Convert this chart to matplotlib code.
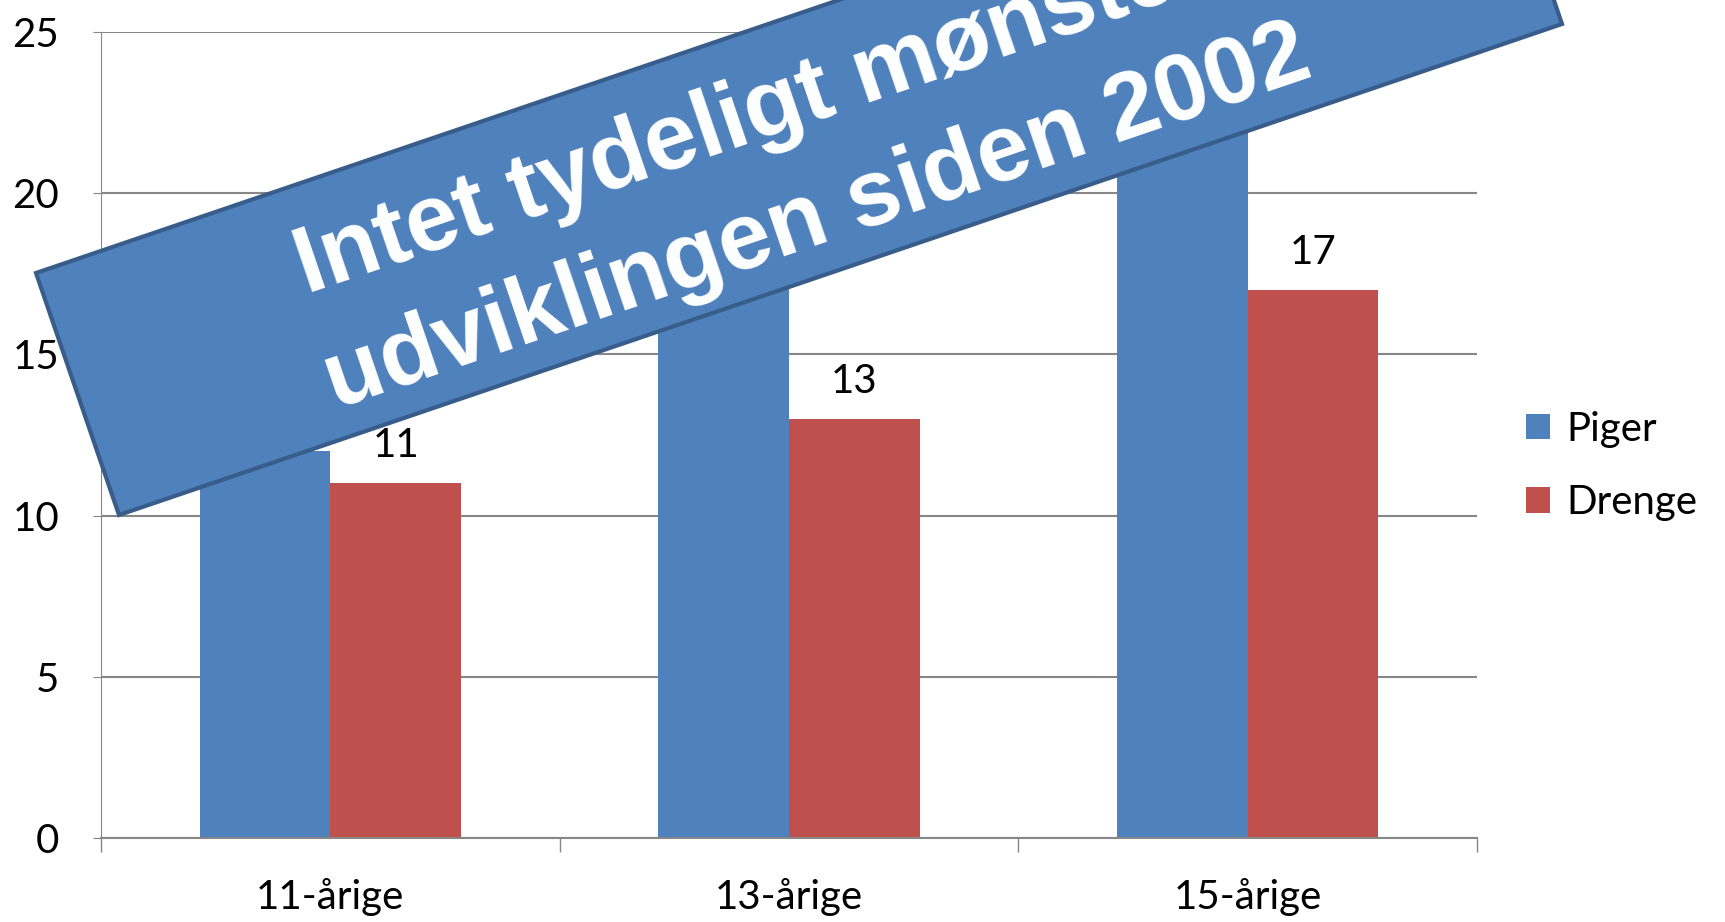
import numpy as np
import matplotlib.pyplot as plt
from matplotlib.patches import Polygon

# data
categories = ['11-årige', '13-årige', '15-årige']
piger = [12, 19, 23]
drenge = [11, 13, 17]
series_names = ['Piger', 'Drenge']
banner_text = 'Intet tydeligt mønster i\nudviklingen siden 2002'

plt.rcParams['font.family'] = ['Lato', 'DejaVu Sans']

W, H = 1725, 922
fig = plt.figure(figsize=(W / 100, H / 100), dpi=100)
ax = fig.add_axes([101 / W, 1 - 838 / H, (1477 - 101) / W, (838 - 32) / H])

x = np.arange(len(categories))
bw = 0.285
b1 = ax.bar(x - bw / 2, piger, bw, color='#4F81BD', label=series_names[0], zorder=2)
b2 = ax.bar(x + bw / 2, drenge, bw, color='#C0504D', label=series_names[1], zorder=2)
for bars in (b1, b2):
    for r in bars:
        ax.text(r.get_x() + r.get_width() / 2, r.get_height() + 0.6, '%d' % r.get_height(),
                ha='center', va='bottom', fontsize=29, color='black')

ax.set_xlim(-0.5, 2.5)
ax.set_ylim(0, 25)
ax.set_yticks(range(0, 26, 5))
ax.grid(axis='y', color='#878787', linewidth=1.5, zorder=0)
ax.set_axisbelow(True)

ax.set_xticks(x)
ax.set_xticklabels(categories, fontsize=29)
ax.set_xticks([-0.5, 0.5, 1.5, 2.5], minor=True)
ax.tick_params(axis='x', which='major', length=0, pad=29)
ax.tick_params(axis='x', which='minor', length=10, color='#878787', width=1)
ax.tick_params(axis='y', labelsize=29, length=6, color='#878787', pad=24)

for s in ['top', 'right']:
    ax.spines[s].set_visible(False)
ax.spines['left'].set_color('#878787')
ax.spines['bottom'].set_color('#878787')
ax.spines['bottom'].set_linewidth(1.5)

fig.legend(handles=[b1, b2], loc='center left', bbox_to_anchor=(1490 / W, 1 - 466 / H),
           frameon=False, fontsize=29, handlelength=0.6, handleheight=0.6,
           handletextpad=0.4, labelspacing=0.9)

# banner, corners in pixel coords
corners = [(36, 273), (119, 515), (1562, 24), (1480, -218)]
poly = Polygon([(cx / W, 1 - cy / H) for cx, cy in corners], closed=True,
               transform=fig.transFigure, facecolor='#4F81BD', edgecolor='#385D8A',
               linewidth=3, zorder=10)
fig.patches.append(poly)
fig.text(798 / W, 1 - 163 / H, banner_text, rotation=18.8, rotation_mode='anchor',
         ha='center', va='center', color='white', fontsize=68, fontweight='bold',
         family=['Liberation Sans', 'DejaVu Sans'], linespacing=1.42, zorder=11)

fig.savefig('out.png', dpi=100)
